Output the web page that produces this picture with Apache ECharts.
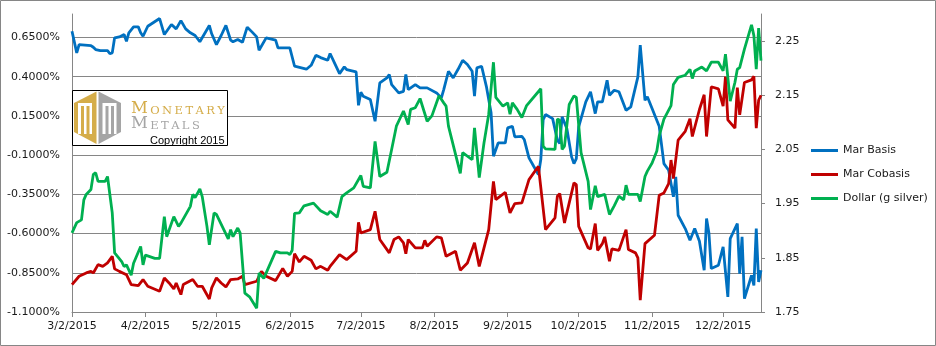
<!DOCTYPE html>
<html>
<head>
<meta charset="utf-8">
<script src="https://cdn.jsdelivr.net/npm/echarts@6/dist/echarts.min.js"></script>
<style>
html,body{margin:0;padding:0;background:#fff;}
#chart{width:936px;height:346px;}
</style>
</head>
<body>
<div id="chart"></div>
<script>
// ---------- data ----------
const xTickDates = ['2015-03-02','2015-04-02','2015-05-02','2015-06-02','2015-07-02','2015-08-02','2015-09-02','2015-10-02','2015-11-02','2015-12-02'];
const leftTicks = [-1.1, -0.85, -0.6, -0.35, -0.1, 0.15, 0.4, 0.65];
const rightTicks = [1.75, 1.85, 1.95, 2.05, 2.15, 2.25];
const seriesNames = ['Mar Basis', 'Mar Cobasis', 'Dollar (g silver)'];

const basisDates = ['2015-03-02','2015-03-04','2015-03-05','2015-03-10','2015-03-11','2015-03-12','2015-03-14','2015-03-17','2015-03-18','2015-03-19','2015-03-20','2015-03-22','2015-03-24','2015-03-25','2015-03-26','2015-03-28','2015-03-30','2015-03-31','2015-04-01','2015-04-03','2015-04-08','2015-04-10','2015-04-13','2015-04-15','2015-04-17','2015-04-19','2015-04-21','2015-04-23','2015-04-25','2015-04-29','2015-04-30','2015-05-02','2015-05-04','2015-05-06','2015-05-08','2015-05-09','2015-05-11','2015-05-13','2015-05-15','2015-05-17','2015-05-19','2015-05-20','2015-05-23','2015-05-27','2015-05-28','2015-06-02','2015-06-04','2015-06-09','2015-06-11','2015-06-13','2015-06-15','2015-06-18','2015-06-19','2015-06-21','2015-06-23','2015-06-25','2015-06-26','2015-06-30','2015-07-01','2015-07-02','2015-07-03','2015-07-06','2015-07-08','2015-07-10','2015-07-13','2015-07-14','2015-07-15','2015-07-18','2015-07-20','2015-07-21','2015-07-22','2015-07-25','2015-07-27','2015-07-30','2015-08-03','2015-08-05','2015-08-06','2015-08-08','2015-08-10','2015-08-12','2015-08-14','2015-08-16','2015-08-18','2015-08-19','2015-08-20','2015-08-22','2015-08-24','2015-08-26','2015-08-27','2015-08-29','2015-09-01','2015-09-02','2015-09-04','2015-09-05','2015-09-08','2015-09-09','2015-09-11','2015-09-13','2015-09-15','2015-09-16','2015-09-17','2015-09-18','2015-09-21','2015-09-23','2015-09-24','2015-09-25','2015-09-27','2015-09-29','2015-09-30','2015-10-01','2015-10-02','2015-10-05','2015-10-07','2015-10-09','2015-10-10','2015-10-12','2015-10-14','2015-10-15','2015-10-17','2015-10-19','2015-10-22','2015-10-24','2015-10-27','2015-10-28','2015-10-30','2015-10-31','2015-11-02','2015-11-05','2015-11-07','2015-11-09','2015-11-10','2015-11-11','2015-11-12','2015-11-13','2015-11-16','2015-11-18','2015-11-20','2015-11-22','2015-11-24','2015-11-25','2015-11-26','2015-11-27','2015-11-30','2015-12-02','2015-12-04','2015-12-05','2015-12-08','2015-12-09','2015-12-10','2015-12-11','2015-12-14','2015-12-15','2015-12-16','2015-12-17','2015-12-18'];
const basisValues = [0.69,0.552,0.605,0.599,0.588,0.573,0.567,0.567,0.548,0.552,0.648,0.654,0.669,0.626,0.68,0.718,0.718,0.68,0.658,0.722,0.771,0.669,0.733,0.705,0.758,0.705,0.68,0.663,0.623,0.727,0.674,0.605,0.663,0.727,0.633,0.623,0.637,0.62,0.716,0.686,0.654,0.569,0.648,0.633,0.584,0.584,0.467,0.448,0.473,0.537,0.522,0.505,0.548,0.484,0.42,0.463,0.446,0.431,0.218,0.301,0.276,0.255,0.116,0.361,0.393,0.414,0.35,0.297,0.307,0.414,0.318,0.35,0.329,0.329,0.297,0.265,0.318,0.435,0.393,0.446,0.505,0.478,0.435,0.276,0.457,0.467,0.339,0.17,-0.107,-0.022,-0.022,0.074,0.084,0.017,0.02,0,-0.117,-0.171,-0.224,-0.128,0.127,0.159,0.133,-0.005,-0.026,0.144,0.07,-0.111,-0.154,-0.122,0.08,0.24,0.304,0.165,0.24,0.24,0.378,0.282,0.314,0.304,0.186,0.208,0.399,0.601,0.25,0.272,0.197,0.084,-0.154,-0.196,-0.281,-0.366,-0.238,-0.483,-0.568,-0.643,-0.568,-0.649,-0.834,-0.504,-0.596,-0.823,-0.802,-0.685,-1.004,-0.632,-0.536,-0.855,-0.621,-1.015,-0.866,-0.93,-0.568,-0.908,-0.834];

const cobasisDates = ['2015-03-02','2015-03-05','2015-03-08','2015-03-10','2015-03-11','2015-03-13','2015-03-15','2015-03-17','2015-03-19','2015-03-20','2015-03-22','2015-03-25','2015-03-27','2015-03-30','2015-04-01','2015-04-03','2015-04-08','2015-04-10','2015-04-12','2015-04-14','2015-04-15','2015-04-17','2015-04-18','2015-04-22','2015-04-24','2015-04-26','2015-04-29','2015-04-30','2015-05-02','2015-05-04','2015-05-06','2015-05-08','2015-05-11','2015-05-13','2015-05-14','2015-05-19','2015-05-21','2015-05-23','2015-05-27','2015-05-30','2015-06-01','2015-06-03','2015-06-04','2015-06-06','2015-06-08','2015-06-11','2015-06-13','2015-06-15','2015-06-18','2015-06-19','2015-06-23','2015-06-26','2015-06-30','2015-07-01','2015-07-02','2015-07-06','2015-07-08','2015-07-10','2015-07-14','2015-07-16','2015-07-18','2015-07-20','2015-07-21','2015-07-22','2015-07-25','2015-07-28','2015-07-29','2015-07-30','2015-08-03','2015-08-05','2015-08-07','2015-08-11','2015-08-13','2015-08-16','2015-08-19','2015-08-21','2015-08-25','2015-08-27','2015-08-28','2015-09-01','2015-09-03','2015-09-05','2015-09-08','2015-09-11','2015-09-15','2015-09-18','2015-09-22','2015-09-23','2015-09-24','2015-09-26','2015-09-28','2015-09-30','2015-10-01','2015-10-02','2015-10-06','2015-10-07','2015-10-09','2015-10-10','2015-10-12','2015-10-13','2015-10-15','2015-10-16','2015-10-19','2015-10-22','2015-10-23','2015-10-26','2015-10-27','2015-10-28','2015-10-30','2015-11-03','2015-11-05','2015-11-07','2015-11-09','2015-11-10','2015-11-11','2015-11-13','2015-11-16','2015-11-18','2015-11-19','2015-11-22','2015-11-24','2015-11-25','2015-11-27','2015-11-30','2015-12-02','2015-12-03','2015-12-04','2015-12-07','2015-12-08','2015-12-09','2015-12-11','2015-12-14','2015-12-15','2015-12-16','2015-12-17','2015-12-18'];
const cobasisValues = [-0.925,-0.872,-0.851,-0.841,-0.851,-0.798,-0.809,-0.787,-0.745,-0.825,-0.841,-0.862,-0.925,-0.932,-0.893,-0.936,-0.968,-0.883,-0.915,-0.953,-0.915,-0.989,-0.925,-0.893,-0.936,-0.936,-1.017,-0.946,-0.883,-0.915,-0.94,-0.893,-0.889,-0.872,-0.925,-0.904,-0.841,-0.872,-0.9,-0.823,-0.872,-0.841,-0.728,-0.781,-0.745,-0.77,-0.825,-0.809,-0.834,-0.809,-0.734,-0.766,-0.713,-0.528,-0.596,-0.575,-0.458,-0.638,-0.723,-0.638,-0.621,-0.659,-0.728,-0.638,-0.691,-0.691,-0.643,-0.681,-0.621,-0.628,-0.745,-0.713,-0.834,-0.787,-0.659,-0.809,-0.575,-0.267,-0.383,-0.337,-0.468,-0.409,-0.404,-0.256,-0.171,-0.575,-0.5,-0.362,-0.345,-0.532,-0.404,-0.277,-0.288,-0.554,-0.691,-0.698,-0.536,-0.707,-0.664,-0.621,-0.777,-0.698,-0.707,-0.575,-0.702,-0.723,-0.755,-1.024,-0.664,-0.611,-0.356,-0.341,-0.281,-0.131,-0.25,-0.004,0.052,0.132,0.019,0.191,0.285,0.019,0.336,0.323,0.212,0.4,0.125,0.072,0.331,0.157,0.363,0.38,0.403,0.072,0.25,0.282];

const dollarDates = ['2015-03-02','2015-03-04','2015-03-06','2015-03-07','2015-03-08','2015-03-10','2015-03-11','2015-03-12','2015-03-13','2015-03-16','2015-03-17','2015-03-19','2015-03-20','2015-03-23','2015-03-24','2015-03-25','2015-03-27','2015-03-28','2015-03-31','2015-04-01','2015-04-02','2015-04-06','2015-04-08','2015-04-10','2015-04-11','2015-04-14','2015-04-16','2015-04-17','2015-04-21','2015-04-22','2015-04-23','2015-04-25','2015-04-26','2015-04-28','2015-04-29','2015-05-01','2015-05-02','2015-05-07','2015-05-08','2015-05-09','2015-05-11','2015-05-12','2015-05-14','2015-05-16','2015-05-19','2015-05-20','2015-05-22','2015-05-27','2015-05-29','2015-06-01','2015-06-02','2015-06-03','2015-06-04','2015-06-06','2015-06-08','2015-06-12','2015-06-15','2015-06-18','2015-06-19','2015-06-22','2015-06-24','2015-06-26','2015-06-29','2015-07-02','2015-07-03','2015-07-06','2015-07-08','2015-07-10','2015-07-13','2015-07-15','2015-07-17','2015-07-20','2015-07-22','2015-07-23','2015-07-25','2015-07-27','2015-07-30','2015-08-01','2015-08-04','2015-08-06','2015-08-07','2015-08-08','2015-08-13','2015-08-14','2015-08-18','2015-08-19','2015-08-21','2015-08-23','2015-08-25','2015-08-27','2015-08-28','2015-08-31','2015-09-02','2015-09-03','2015-09-04','2015-09-06','2015-09-08','2015-09-10','2015-09-16','2015-09-17','2015-09-18','2015-09-22','2015-09-23','2015-09-24','2015-09-25','2015-09-26','2015-09-28','2015-09-30','2015-10-01','2015-10-03','2015-10-06','2015-10-07','2015-10-09','2015-10-10','2015-10-13','2015-10-15','2015-10-17','2015-10-19','2015-10-21','2015-10-22','2015-10-23','2015-10-27','2015-10-28','2015-10-30','2015-10-31','2015-11-02','2015-11-04','2015-11-05','2015-11-07','2015-11-10','2015-11-11','2015-11-13','2015-11-16','2015-11-18','2015-11-19','2015-11-20','2015-11-23','2015-11-25','2015-11-27','2015-11-30','2015-12-02','2015-12-03','2015-12-05','2015-12-07','2015-12-08','2015-12-09','2015-12-11','2015-12-14','2015-12-15','2015-12-16','2015-12-17','2015-12-18'];
const dollarValues = [1.896,1.915,1.92,1.957,1.967,1.976,2.004,2.007,1.991,1.991,2.0,1.933,1.859,1.843,1.834,1.837,1.818,1.84,1.871,1.837,1.855,1.849,1.849,1.926,1.889,1.926,1.908,1.914,1.945,1.967,1.961,1.977,1.963,1.908,1.874,1.933,1.93,1.885,1.902,1.889,1.905,1.896,1.785,1.778,1.757,1.822,1.812,1.862,1.859,1.859,1.856,1.864,1.932,1.933,1.946,1.951,1.937,1.93,1.936,1.925,1.963,1.97,1.979,2.002,1.982,1.979,2.065,2.0,2.008,2.05,2.093,2.121,2.096,2.124,2.127,2.144,2.102,2.112,2.149,2.136,2.13,2.093,2.006,2.044,2.031,2.09,1.998,2.062,2.115,2.211,2.146,2.13,2.136,2.115,2.136,2.124,2.109,2.131,2.162,2.056,2.051,2.05,2.106,2.104,2.05,2.056,2.133,2.149,2.146,2.044,1.991,1.939,1.983,1.963,1.967,1.93,1.946,1.964,1.957,1.984,1.967,1.967,1.954,2.0,2.01,2.025,2.047,2.075,2.106,2.131,2.17,2.183,2.187,2.198,2.181,2.195,2.202,2.195,2.211,2.211,2.195,2.226,2.139,2.174,2.198,2.201,2.235,2.28,2.26,2.198,2.274,2.214];

// ---------- helpers ----------
function toTime(s) { const p = s.split('-').map(Number); return new Date(p[0], p[1] - 1, p[2]).getTime(); }
function zip(dates, vals) { return dates.map((d, i) => [toTime(d), vals[i]]); }

const FONT = 'DejaVu Sans';
const GRID_COLOR = '#868686';
const TEXT_COLOR = '#1a1a1a';
const COLORS = ['#0070C0', '#C00000', '#00B050'];
const GOLD = '#D5AD4A';
const GREY = '#A5A5A5';

const chart = echarts.init(document.getElementById('chart'), null, { renderer: 'canvas' });

const option = {
  animation: false,
  backgroundColor: '#ffffff',
  color: COLORS,
  grid: { left: 72, top: 14, width: 689, height: 298, containLabel: false },
  legend: {
    orient: 'vertical',
    left: 806,
    top: 139,
    icon: 'rect',
    itemWidth: 27,
    itemHeight: 3,
    itemGap: 11,
    data: seriesNames,
    textStyle: { fontFamily: FONT, fontSize: 11, color: TEXT_COLOR, lineHeight: 13 }
  },
  xAxis: {
    type: 'value',
    min: toTime('2015-03-02'),
    max: toTime('2015-12-18'),
    axisLine: { show: true, onZero: false, lineStyle: { color: GRID_COLOR, width: 1 } },
    axisTick: { show: true, length: 5, lineStyle: { color: GRID_COLOR }, customValues: xTickDates.map(toTime) },
    axisLabel: {
      customValues: xTickDates.map(toTime),
      fontFamily: FONT, fontSize: 11, color: TEXT_COLOR, margin: 9,
      formatter: function (v) { const d = new Date(v); return (d.getMonth() + 1) + '/' + d.getDate() + '/' + d.getFullYear(); }
    },
    splitLine: { show: false }
  },
  yAxis: [
    {
      type: 'value',
      min: -1.1,
      max: 0.8,
      position: 'left',
      axisLine: { show: true, lineStyle: { color: GRID_COLOR, width: 1 } },
      axisTick: { show: false, customValues: leftTicks },
      axisLabel: {
        customValues: leftTicks,
        fontFamily: FONT, fontSize: 11, color: TEXT_COLOR, margin: 12,
        formatter: function (v) { return v.toFixed(4) + '%'; }
      },
      splitLine: { show: true, lineStyle: { color: GRID_COLOR, width: 1 } }
    },
    {
      type: 'value',
      min: 1.75,
      max: 2.3,
      position: 'right',
      axisLine: { show: true, lineStyle: { color: GRID_COLOR, width: 1 } },
      axisTick: { show: true, length: 4, lineStyle: { color: GRID_COLOR }, customValues: rightTicks },
      axisLabel: {
        customValues: rightTicks,
        fontFamily: FONT, fontSize: 11, color: TEXT_COLOR, margin: 14,
        formatter: function (v) { return v.toFixed(2); }
      },
      splitLine: { show: false }
    }
  ],
  series: [
    { name: seriesNames[0], type: 'line', yAxisIndex: 0, symbol: 'none', lineStyle: { width: 2.8, color: COLORS[0] }, itemStyle: { color: COLORS[0] }, data: zip(basisDates, basisValues) },
    { name: seriesNames[1], type: 'line', yAxisIndex: 0, symbol: 'none', lineStyle: { width: 2.8, color: COLORS[1] }, itemStyle: { color: COLORS[1] }, data: zip(cobasisDates, cobasisValues) },
    { name: seriesNames[2], type: 'line', yAxisIndex: 1, symbol: 'none', lineStyle: { width: 2.8, color: COLORS[2] }, itemStyle: { color: COLORS[2] }, data: zip(dollarDates, dollarValues) }
  ],
  graphic: [
    { type: 'rect', z: 0, silent: true, shape: { x: 0.5, y: 0.5, width: 935, height: 345 }, style: { fill: 'none', stroke: GRID_COLOR, lineWidth: 1 } },
    { type: 'rect', z: 100, silent: true, shape: { x: 72.5, y: 90.5, width: 155, height: 55 }, style: { fill: '#ffffff', stroke: '#000000', lineWidth: 1 } },
    { type: 'polygon', z: 101, silent: true, shape: { points: [[74, 103], [96.5, 91.5], [96.5, 144], [74, 132]] }, style: { fill: GOLD } },
    { type: 'polygon', z: 101, silent: true, shape: { points: [[98.5, 91.5], [121, 103], [121, 132], [98.5, 144]] }, style: { fill: GREY } },
    { type: 'rect', z: 102, silent: true, shape: { x: 78, y: 103, width: 14, height: 31 }, style: { fill: '#ffffff' } },
    { type: 'rect', z: 103, silent: true, shape: { x: 81, y: 106, width: 3, height: 28 }, style: { fill: GOLD } },
    { type: 'rect', z: 103, silent: true, shape: { x: 86.5, y: 106, width: 3, height: 28 }, style: { fill: GOLD } },
    { type: 'rect', z: 102, silent: true, shape: { x: 102.5, y: 103, width: 14, height: 31 }, style: { fill: '#ffffff' } },
    { type: 'rect', z: 103, silent: true, shape: { x: 105.5, y: 106, width: 3, height: 28 }, style: { fill: GREY } },
    { type: 'rect', z: 103, silent: true, shape: { x: 111, y: 106, width: 3, height: 28 }, style: { fill: GREY } },
    {
      type: 'text', z: 104, silent: true, x: 131, y: 117,
      style: {
        text: '{a|M}{b|O}{b|N}{b|E}{b|T}{b|A}{b|R}{b|Y}',
        verticalAlign: 'bottom',
        rich: {
          a: { fontFamily: 'DejaVu Serif', fontSize: 16.5, fill: GOLD, verticalAlign: 'bottom', lineHeight: 18 },
          b: { fontFamily: 'DejaVu Serif', fontSize: 11.5, fill: GOLD, verticalAlign: 'bottom', lineHeight: 18, padding: [0, 0, 0, 2.4] }
        }
      }
    },
    {
      type: 'text', z: 104, silent: true, x: 131, y: 132,
      style: {
        text: '{a|M}{b|E}{b|T}{b|A}{b|L}{b|S}',
        verticalAlign: 'bottom',
        rich: {
          a: { fontFamily: 'DejaVu Serif', fontSize: 16.5, fill: GREY, verticalAlign: 'bottom', lineHeight: 18 },
          b: { fontFamily: 'DejaVu Serif', fontSize: 11.5, fill: GREY, verticalAlign: 'bottom', lineHeight: 18, padding: [0, 0, 0, 2.4] }
        }
      }
    },
    { type: 'text', z: 104, silent: true, x: 150, y: 141, style: { text: 'Copyright 2015', fontFamily: 'Liberation Sans', fontSize: 11, fill: '#000000', verticalAlign: 'middle' } }
  ]
};

chart.setOption(option);
</script>
</body>
</html>
